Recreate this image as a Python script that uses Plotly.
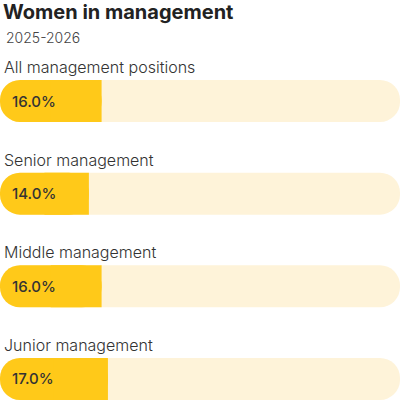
import plotly.graph_objects as go

categories = ["All management positions", "Senior management", "Middle management", "Junior management"]
values = [16.0, 14.0, 16.0, 17.0]
value_labels = ["16.0%", "14.0%", "16.0%", "17.0%"]
track_max = 63

title = "Women in management"
subtitle = "2025-2026"

FILL = "#FFC919"
TRACK = "#FEF3D9"
FONT = "Inter"
BAR_W = 0.453

fig = go.Figure()

# background track (pill)
fig.add_trace(go.Bar(
    y=categories, x=[track_max] * len(categories), base=[0] * len(categories),
    orientation="h", width=BAR_W, marker=dict(color=TRACK, cornerradius="50%", line=dict(width=0)),
    hoverinfo="skip", showlegend=False,
))

# filled part: rounded pill plus a square piece so only the left end stays round
fig.add_trace(go.Bar(
    y=categories, x=values, base=[0] * len(categories),
    orientation="h", width=BAR_W, marker=dict(color=FILL, cornerradius="50%", line=dict(width=0)),
    hoverinfo="skip", showlegend=False,
))
fig.add_trace(go.Bar(
    y=categories, x=[v / 2 for v in values], base=[v / 2 for v in values],
    orientation="h", width=BAR_W, marker=dict(color=FILL, cornerradius=0, line=dict(width=0)),
    hoverinfo="skip", showlegend=False,
))

annotations = []
for cat, lab in zip(categories, value_labels):
    annotations.append(dict(
        x=0, y=cat, xref="x", yref="y", text=cat, showarrow=False,
        xanchor="left", yanchor="middle", xshift=2, yshift=34,
        font=dict(family=FONT, size=16, color="#333333", weight=300),
    ))
    annotations.append(dict(
        x=0, y=cat, xref="x", yref="y", text=lab, showarrow=False,
        xanchor="left", yanchor="middle", xshift=10, yshift=0,
        font=dict(family=FONT, size=15, color="#333333", weight=500),
    ))

annotations.append(dict(
    x=0, y=1 - 12 / 400, xref="paper", yref="paper", text=title, showarrow=False,
    xanchor="left", yanchor="middle", xshift=1,
    font=dict(family=FONT, size=20, color="#222222", weight=700),
))
annotations.append(dict(
    x=0, y=1 - 37 / 400, xref="paper", yref="paper", text=subtitle, showarrow=False,
    xanchor="left", yanchor="middle", xshift=4,
    font=dict(family=FONT, size=14, color="#444444", weight=300),
))

fig.update_layout(
    width=400, height=400,
    margin=dict(l=0, r=0, t=0, b=0),
    paper_bgcolor="white", plot_bgcolor="white",
    barmode="overlay",
    xaxis=dict(range=[0, track_max], visible=False, fixedrange=True),
    yaxis=dict(type="category", categoryarray=categories, range=[3.227, -1.090],
               visible=False, fixedrange=True),
    annotations=annotations,
    showlegend=False,
)

fig.write_html("out.html", config={"displayModeBar": False},
               post_script="document.body.style.margin='0';")
